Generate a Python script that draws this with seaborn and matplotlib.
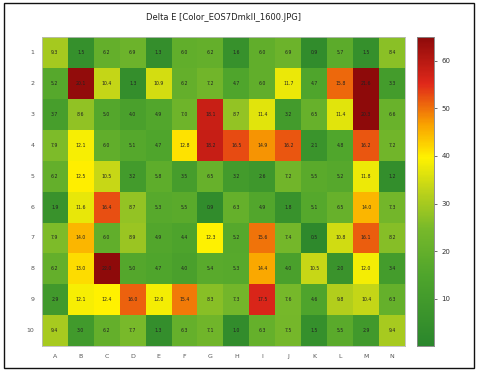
import numpy as np
import pandas as pd
import matplotlib
matplotlib.use("Agg")
import matplotlib.pyplot as plt
import seaborn as sns
from matplotlib.colors import LinearSegmentedColormap
from matplotlib.patches import Rectangle

sns.set_style("white")

# Patch labels
cols = list("ABCDEFGHIJKLMN")
rows = [str(i) for i in range(1, 11)]

# Delta E per patch (as printed in the cells)
row1 = [9.3, 1.5, 6.2, 6.9, 1.3, 6.0, 6.2, 1.6, 6.0, 6.9, 0.9, 5.7, 1.5, 8.4]
row2 = [5.2, 20.1, 10.4, 1.3, 10.9, 6.2, 7.2, 4.7, 6.0, 11.7, 4.7, 15.8, 21.6, 3.3]
row3 = [3.7, 8.6, 5.0, 4.0, 4.9, 7.0, 18.1, 8.7, 11.4, 3.2, 6.5, 11.4, 20.3, 6.6]
row4 = [7.9, 12.1, 6.0, 5.1, 4.7, 12.8, 18.2, 16.5, 14.9, 16.2, 2.1, 4.8, 16.2, 7.2]
row5 = [6.2, 12.5, 10.5, 3.2, 5.8, 3.5, 6.5, 3.2, 2.6, 7.2, 5.5, 5.2, 11.8, 1.2]
row6 = [1.9, 11.6, 16.4, 8.7, 5.3, 5.5, 0.9, 6.3, 4.9, 1.8, 5.1, 6.5, 14.0, 7.3]
row7 = [7.9, 14.0, 6.0, 8.9, 4.9, 4.4, 12.3, 5.2, 15.6, 7.4, 0.5, 10.8, 16.1, 8.2]
row8 = [6.2, 13.0, 22.0, 5.0, 4.7, 4.0, 5.4, 5.3, 14.4, 4.0, 10.5, 2.0, 12.0, 3.4]
row9 = [2.9, 12.1, 12.4, 16.0, 12.0, 15.4, 8.3, 7.3, 17.5, 7.6, 4.6, 9.8, 10.4, 6.3]
row10 = [9.4, 3.0, 6.2, 7.7, 1.3, 6.3, 7.1, 1.0, 6.3, 7.5, 1.5, 5.5, 2.9, 9.4]

# colour bar of the original runs on a different scale than the printed values
colour_scale = 3.2

delta_e = pd.DataFrame([row1, row2, row3, row4, row5, row6, row7, row8, row9, row10],
                       index=rows, columns=cols)

cmap = LinearSegmentedColormap.from_list("de", [
    (0.00, "#2a862c"),
    (0.23, "#4fa52c"),
    (0.38, "#78b92a"),
    (0.50, "#bcd21a"),
    (0.61, "#fff200"),
    (0.72, "#f9a000"),
    (0.85, "#e0281a"),
    (1.00, "#8e0a0a"),
])

fig = plt.figure(figsize=(4.81, 3.71), dpi=100)
ax = fig.add_axes([0.087, 0.067, 0.755, 0.833])
cax = fig.add_axes([0.867, 0.067, 0.035, 0.833])

sns.heatmap(delta_e * colour_scale, ax=ax, cbar_ax=cax, cmap=cmap, vmin=0, vmax=65,
            annot=delta_e.values, fmt=".1f", annot_kws={"fontsize": 3.3, "color": "#222222"},
            linewidths=0)

ax.set_title("Delta E [Color_EOS7DmkII_1600.JPG]", fontsize=6, color="#222222", pad=12)
ax.tick_params(axis="both", labelsize=4.5, colors="#555555", length=2, width=0.5)
ax.set_yticklabels(rows, rotation=0)
ax.set_xticklabels(cols, rotation=0)
for s in ax.spines.values():
    s.set_visible(True)
    s.set_edgecolor("#bbbbbb")
    s.set_linewidth(0.6)

cax.set_yticks([10, 20, 30, 40, 50, 60])
cax.tick_params(labelsize=5, colors="#333333", length=2, width=0.5)
for s in cax.spines.values():
    s.set_visible(True)
    s.set_edgecolor("#888888")
    s.set_linewidth(0.5)

# outer frame
fig.patches.append(Rectangle((0.008, 0.008), 0.978, 0.985, transform=fig.transFigure,
                             fill=False, edgecolor="#111111", linewidth=1.0))

plt.savefig("out.png", dpi=100)
